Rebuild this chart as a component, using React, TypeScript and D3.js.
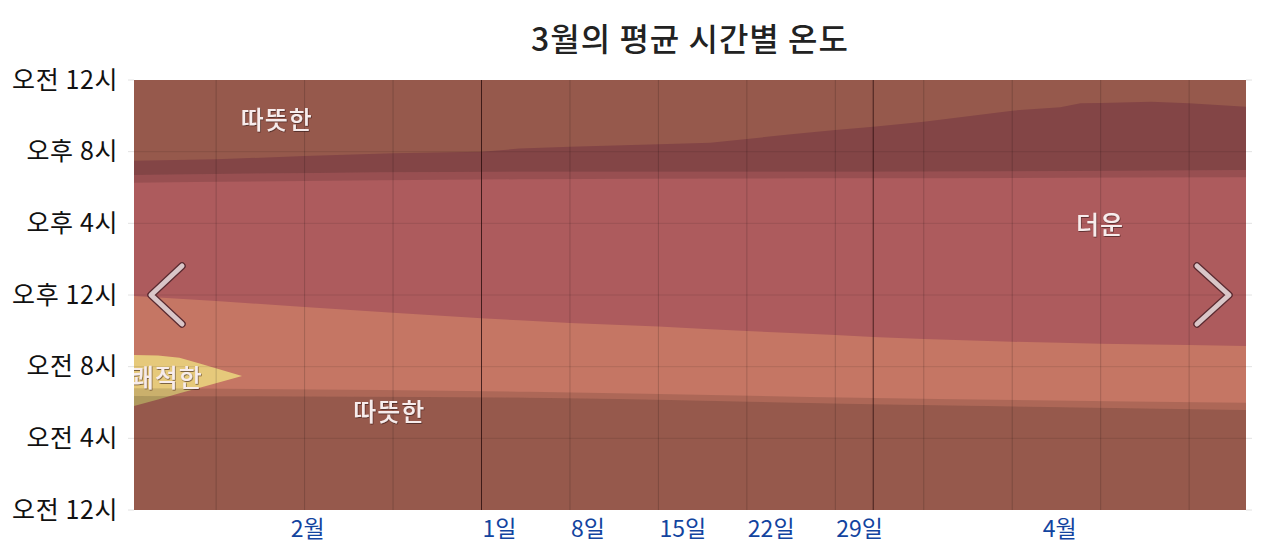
import * as d3 from 'd3';

// day index: 0 = Feb 1 ; hours: 0 = midnight (bottom) .. 24 (top)
const hotLowDays = [0.5, 7, 14, 21, 28, 35, 42, 49, 56, 59, 63, 70, 77, 84, 88.5];
const hotLowHours = [11.94, 11.66, 11.33, 11.01, 10.7, 10.44, 10.24, 9.99, 9.77, 9.66, 9.54, 9.39, 9.28, 9.21, 9.15];

const hotHighDays = [0.5, 7, 14, 21, 28, 31, 35, 42, 46.1, 49, 52.5, 56, 59, 63, 70, 73.8, 75.4, 77, 81, 84, 88.5];
const hotHighHours = [19.5, 19.57, 19.76, 19.91, 20.0, 20.17, 20.28, 20.41, 20.5, 20.71, 20.97, 21.21, 21.39, 21.67, 22.29, 22.48, 22.7, 22.72, 22.79, 22.7, 22.51];

const comfortDays = [0.5, 2.4, 4.1, 5.7, 9.05];
const comfortLow = [5.8, 6.17, 6.52, 6.83, 7.48];
const comfortHigh = [8.65, 8.62, 8.5, 8.18, 7.48];

const sunDays = [0.5, 31.8, 57.9, 88.5];
const dawnHours = [6.36, 6.27, 5.92, 5.58];
const sunriseHours = [6.79, 6.6, 6.27, 5.99];
const sunsetHours = [18.27, 18.46, 18.51, 18.57];
const duskHours = [18.7, 18.88, 18.88, 18.98];

const hourTicks = [0, 4, 8, 12, 16, 20, 24];
const hourLabels = ['오전 12시', '오전 4시', '오전 8시', '오후 12시', '오후 4시', '오후 8시', '오전 12시'];

const weekDays = [7, 14, 21, 28, 35, 42, 49, 56, 63, 70, 77, 84];
const monthStartDays = [28, 59];
const dayLabelDays = [28, 35, 42, 49, 56];
const dayLabelTexts = ['1일', '8일', '15일', '22일', '29일'];
const monthLabelTexts = ['2월', '4월'];
const monthLabelRanges: [number, number][] = [[0.5, 28], [59, 88.5]];

const regionTexts = ['따뜻한', '따뜻한', '더운', '쾌적한'];
const regionDays = [11.8, 20.7, 76.95, 3.1];
const regionHours = [21.77, 5.47, 15.9, 7.37];

const title = '3월의 평균 시간별 온도';

const COLORS = {
  warm: '#c57664',
  hot: '#ad5b5d',
  comfort: '#e6c97b',
};

const W = 1280;
const H = 553;
const margin = { top: 80, right: 34, bottom: 43, left: 134 };
const FONT = '"Noto Sans CJK KR", "Noto Sans", sans-serif';

export default function App() {
  const x = d3.scaleLinear().domain([0.5, 88.5]).range([margin.left, W - margin.right]);
  const y = d3.scaleLinear().domain([0, 24]).range([H - margin.bottom, margin.top]);
  const [x0, x1] = x.range();
  const [yb, yt] = y.range();

  const band = (days: number[], lo: number[] | number, hi: number[] | number, curve = d3.curveMonotoneX) =>
    d3
      .area<number>()
      .x((d) => x(d))
      .y0((_, i) => y(typeof lo === 'number' ? lo : lo[i]))
      .y1((_, i) => y(typeof hi === 'number' ? hi : hi[i]))
      .curve(curve)(days) || '';

  const hotPath = (() => {
    // hot band between lower and upper boundary, sampled on a merged day grid
    const grid = Array.from(new Set([...hotLowDays, ...hotHighDays])).sort((a, b) => a - b);
    const lo = grid.map((d) => d3.scaleLinear().domain(hotLowDays).range(hotLowHours)(d));
    const hi = grid.map((d) => d3.scaleLinear().domain(hotHighDays).range(hotHighHours)(d));
    return band(grid, lo, hi, d3.curveLinear);
  })();

  return (
    <svg width={W} height={H} style={{ position: 'absolute', left: 0, top: 0, fontFamily: FONT }}>
      <defs>
        <clipPath id="plot">
          <rect x={x0} y={yt} width={x1 - x0} height={yb - yt} />
        </clipPath>
        <filter id="shadow" x="-10%" y="-30%" width="120%" height="160%">
          <feDropShadow dx="0.6" dy="0.8" stdDeviation="0.6" floodColor="#2a0a0a" floodOpacity="0.7" />
        </filter>
      </defs>

      <text
        x={(x0 + x1) / 2}
        y={40}
        dy="0.35em"
        textAnchor="middle"
        fontSize={32}
        fontWeight={500}
        letterSpacing={1}
        fill="#222"
      >
        {title}
      </text>

      <g clipPath="url(#plot)">
        <rect x={x0} y={yt} width={x1 - x0} height={yb - yt} fill={COLORS.warm} />
        <path d={hotPath} fill={COLORS.hot} />
        <path d={band(comfortDays, comfortLow, comfortHigh, d3.curveLinear)} fill={COLORS.comfort} />

        {/* night shading */}
        <path d={band(sunDays, 0, dawnHours)} fill="#000" fillOpacity={0.24} />
        <path d={band(sunDays, dawnHours, sunriseHours)} fill="#000" fillOpacity={0.12} />
        <path d={band(sunDays, sunsetHours, duskHours)} fill="#000" fillOpacity={0.12} />
        <path d={band(sunDays, duskHours, 24)} fill="#000" fillOpacity={0.24} />

        {hourTicks.slice(1, -1).map((h) => (
          <line key={h} x1={x0} x2={x1} y1={y(h)} y2={y(h)} stroke="#000" strokeOpacity={0.1} />
        ))}
        {weekDays.map((d) => (
          <line key={d} x1={x(d)} x2={x(d)} y1={yt} y2={yb} stroke="#000" strokeOpacity={0.17} />
        ))}
        {monthStartDays.map((d) => (
          <line key={d} x1={x(d)} x2={x(d)} y1={yt} y2={yb} stroke="#2a0c0c" strokeOpacity={0.75} />
        ))}

        {regionTexts.map((t, i) => (
          <text
            key={i}
            x={x(regionDays[i])}
            y={y(regionHours[i])}
            dy="0.35em"
            textAnchor="middle"
            fontSize={25}
            fontWeight={500}
            letterSpacing={1}
            fill="#f7ecec"
            filter="url(#shadow)"
          >
            {t}
          </text>
        ))}
      </g>

      {hourTicks.map((h) => (
        <g key={h}>
          <line x1={x0 - 6} x2={x0} y1={y(h)} y2={y(h)} stroke="#e2e2e2" />
          <line x1={x1} x2={x1 + 6} y1={y(h)} y2={y(h)} stroke="#e2e2e2" />
        </g>
      ))}
      {hourLabels.map((t, i) => (
        <text
          key={i}
          x={x0 - 16}
          y={y(hourTicks[i])}
          dy="0.35em"
          textAnchor="end"
          fontSize={25}
          letterSpacing={0.6}
          fill="#111"
        >
          {t}
        </text>
      ))}

      {dayLabelTexts.map((t, i) => (
        <text key={t} x={x(dayLabelDays[i]) + 1} y={529} dy="0.35em" fontSize={23} fill="#12449f">
          {t}
        </text>
      ))}
      {monthLabelTexts.map((t, i) => (
        <text
          key={t}
          x={(x(monthLabelRanges[i][0]) + x(monthLabelRanges[i][1])) / 2}
          y={529}
          dy="0.35em"
          textAnchor="middle"
          fontSize={23}
          fill="#12449f"
        >
          {t}
        </text>
      ))}

      {/* navigation chevrons */}
      {[
        [x0 + 48, x0 + 17, x0 + 48],
        [x1 - 49, x1 - 17, x1 - 49],
      ].map(([a, v, b], i) => {
        const cy = y(12);
        const pts = `${a},${cy - 29} ${v},${cy} ${b},${cy + 29}`;
        return (
          <g key={i} fill="none" strokeLinecap="round" strokeLinejoin="round">
            <polyline points={pts} stroke="#5a2a30" strokeWidth={7.5} />
            <polyline points={pts} stroke="#d9c6c8" strokeWidth={5} />
          </g>
        );
      })}
    </svg>
  );
}
